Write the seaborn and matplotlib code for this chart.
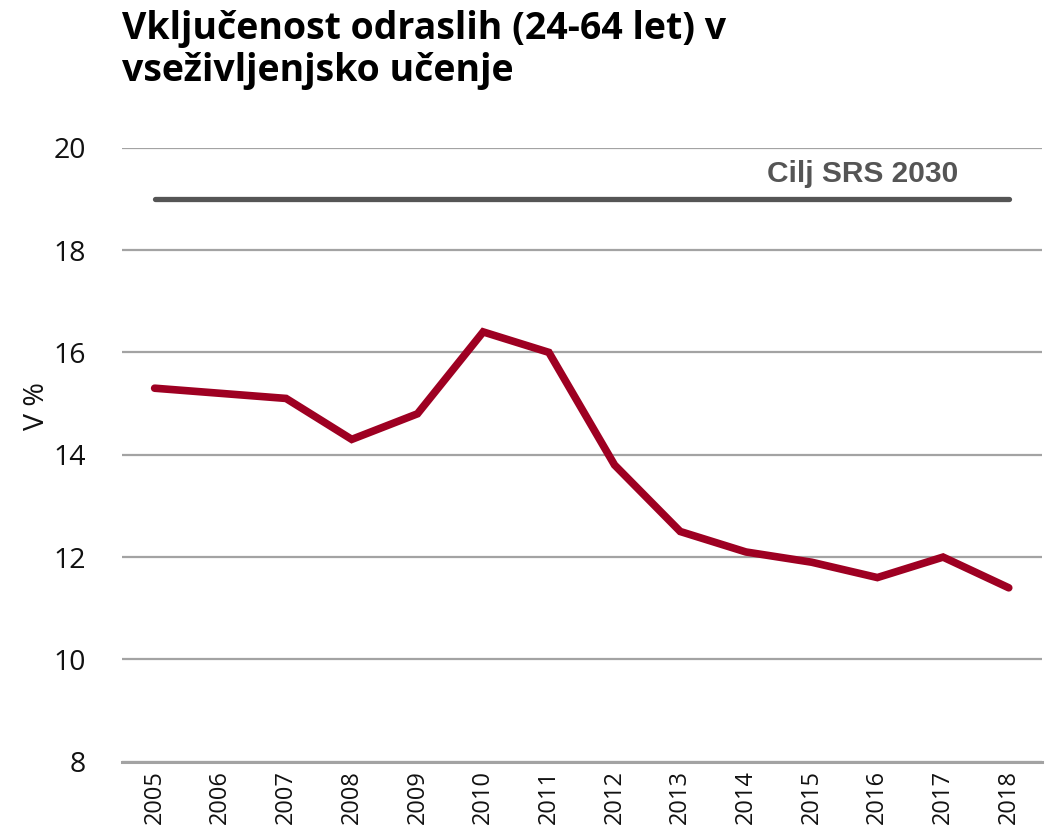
import pandas as pd
import matplotlib.pyplot as plt
import seaborn as sns

years = [2005, 2006, 2007, 2008, 2009, 2010, 2011, 2012, 2013, 2014, 2015, 2016, 2017, 2018]
participation = [15.3, 15.2, 15.1, 14.3, 14.8, 16.4, 16.0, 13.8, 12.5, 12.1, 11.9, 11.6, 12.0, 11.4]
target_years = [2005, 2018]
target_values = [19, 19]
target_label = 'Cilj SRS 2030'
title = 'Vključenost odraslih (24-64 let) v\nvseživljenjsko učenje'

df = pd.DataFrame({'year': years, 'value': participation})
target = pd.DataFrame({'year': target_years, 'value': target_values})

sns.set_style('white')
plt.rcParams['font.family'] = ['Open Sans', 'DejaVu Sans']

fig = plt.figure(figsize=(10.5, 8.39), dpi=100)
ax = fig.add_axes([0.116, 0.092, 0.876, 0.732])

# gridlines first so the lines sit on top
ax.set_ylim(8, 20)
ax.set_yticks(range(8, 21, 2))
ax.yaxis.grid(True, color='#a3a3a3', linewidth=1.6)
ax.set_axisbelow(True)

sns.lineplot(data=target, x='year', y='value', ax=ax, color='#555555',
             linewidth=3.8, solid_capstyle='round')
sns.lineplot(data=df, x='year', y='value', ax=ax, color='#9e0022',
             linewidth=5.5, solid_capstyle='round', solid_joinstyle='miter')

ax.text(2017.23, 19.22, target_label, ha='right', va='bottom', fontsize=21.5,
        fontweight='bold', color='#555555', family=['Liberation Sans', 'DejaVu Sans'])

ax.set_xlim(2004.5, 2018.5)
ax.set_xticks(years)
ax.set_xticklabels([str(y) for y in years], rotation=90, fontsize=17, color='#111111')
ax.tick_params(axis='y', labelsize=20.5, colors='#111111', length=0, pad=26)
ax.tick_params(axis='x', length=0, pad=6)

for side in ['top', 'right', 'left']:
    ax.spines[side].set_visible(False)
ax.spines['bottom'].set_color('#a3a3a3')
ax.spines['bottom'].set_linewidth(2.2)

ax.set_xlabel('')
ax.set_ylabel('V %', fontsize=20.5, color='#111111')
ax.yaxis.set_label_coords(-0.077, 0.58)

fig.text(0.116, 0.988, title, ha='left', va='top', fontsize=27,
         fontweight='bold', color='black', linespacing=1.15)

plt.savefig('out.png', dpi=100)
plt.close()
